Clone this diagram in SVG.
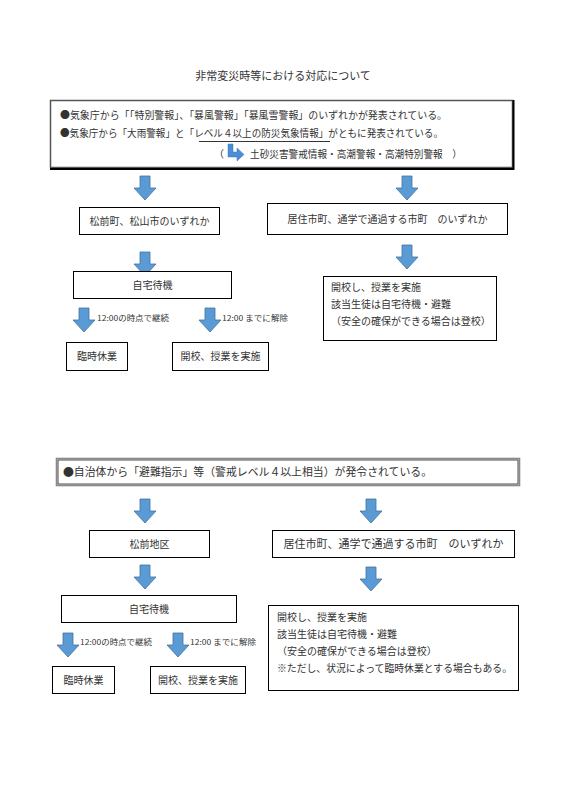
<svg xmlns="http://www.w3.org/2000/svg" width="566" height="801" viewBox="0 0 566 801">
<style>
text{font-family:"Noto Sans CJK JP","Noto Sans",sans-serif;fill:#333;}
.t{font-size:10px;}
.s{font-size:7.5px;}
.box{fill:#fff;stroke:#000;stroke-width:1;}
.arr{fill:#5B9BD5;stroke:#41719C;stroke-width:0.8;}
</style>
<defs>
<path id="da" d="M-5,0 H5 V12 H11 L0,24 L-11,12 H-5 Z"/>
</defs>
<rect width="566" height="801" fill="#fff"/>
<text x="283" y="80" font-size="11" text-anchor="middle">非常変災時等における対応について</text>

<g id="header1">
<rect x="50.5" y="100.5" width="462" height="67" fill="#fff" stroke="#555" stroke-width="1.5"/>
<path d="M513.5,100 V169 H50" fill="none" stroke="#000" stroke-width="2"/>
<text class="t" x="60" y="119" textLength="387" lengthAdjust="spacingAndGlyphs">●気象庁から「「特別警報」、「暴風警報」「暴風雪警報」のいずれかが発表されている。</text>
<text class="t" x="60" y="137" textLength="383" lengthAdjust="spacingAndGlyphs">●気象庁から「大雨警報」と「レベル４以上の防災気象情報」がともに発表されている。</text>
<line x1="199" y1="141.5" x2="330" y2="141.5" stroke="#000" stroke-width="0.8"/>
<text class="t" x="214" y="158">（</text>
<path d="M228,144 H233 V152 H237 V148 L244,154.5 L237,161 V157 H228 Z" fill="#4A8FD6" stroke="#3a78b8" stroke-width="0.5"/>
<text class="t" x="250" y="158" textLength="212" lengthAdjust="spacingAndGlyphs">土砂災害警戒情報・高潮警報・高潮特別警報　）</text>
</g>

<g id="connectors">
<use href="#da" class="arr" x="145" y="176"/>
<use href="#da" class="arr" x="145" y="252"/>
<use href="#da" class="arr" x="84" y="308"/>
<use href="#da" class="arr" x="210" y="308"/>
<use href="#da" class="arr" x="407" y="176"/>
<use href="#da" class="arr" x="407" y="245"/>
<use href="#da" class="arr" x="145" y="499"/>
<use href="#da" class="arr" x="145" y="565"/>
<use href="#da" class="arr" x="68" y="633"/>
<use href="#da" class="arr" x="178" y="633"/>
<use href="#da" class="arr" x="371" y="499"/>
<use href="#da" class="arr" x="371" y="567"/>
<text class="s" x="97" y="321" textLength="72" lengthAdjust="spacingAndGlyphs">12:00の時点で継続</text>
<text class="s" x="222" y="321" textLength="66" lengthAdjust="spacingAndGlyphs">12:00 までに解除</text>
<text class="s" x="80" y="645" textLength="72" lengthAdjust="spacingAndGlyphs">12:00の時点で継続</text>
<text class="s" x="190" y="645" textLength="66" lengthAdjust="spacingAndGlyphs">12:00 までに解除</text>
</g>

<g id="n1"><rect class="box" x="79.5" y="207.5" width="140" height="27"/><text class="t" x="149.5" y="224.5" text-anchor="middle">松前町、松山市のいずれか</text></g>
<g id="n2"><rect class="box" x="73.5" y="271.5" width="158" height="27"/><text class="t" x="152.5" y="288.5" text-anchor="middle">自宅待機</text></g>
<g id="n3"><rect class="box" x="66.5" y="342.5" width="61" height="28"/><text class="t" x="97" y="360" text-anchor="middle">臨時休業</text></g>
<g id="n4"><rect class="box" x="172.5" y="342.5" width="96" height="28"/><text class="t" x="220.5" y="360" text-anchor="middle">開校、授業を実施</text></g>
<g id="n5"><rect class="box" x="267.5" y="203.5" width="240" height="31"/><text class="t" x="387.5" y="222.5" text-anchor="middle">居住市町、通学で通過する市町　のいずれか</text></g>
<g id="n6"><rect class="box" x="323.5" y="276.5" width="173" height="64"/>
<text class="t" x="331" y="291">開校し、授業を実施</text>
<text class="t" x="331" y="308">該当生徒は自宅待機・避難</text>
<text class="t" x="331" y="325">（安全の確保ができる場合は登校）</text></g>

<g id="header2">
<rect x="56.5" y="458.5" width="463" height="27" fill="#fff" stroke="#8a8a8a" stroke-width="1.6"/>
<rect x="58" y="460" width="460" height="24" fill="none" stroke="#222" stroke-width="0.8"/>
<text x="63" y="476" font-size="11" textLength="369" lengthAdjust="spacingAndGlyphs">●自治体から「避難指示」等（警戒レベル４以上相当）が発令されている。</text>
</g>

<g id="m1"><rect class="box" x="89.5" y="530.5" width="120" height="27"/><text class="t" x="149.5" y="547.5" text-anchor="middle">松前地区</text></g>
<g id="m2"><rect class="box" x="61.5" y="595.5" width="175" height="27"/><text class="t" x="149" y="612.5" text-anchor="middle">自宅待機</text></g>
<g id="m3"><rect class="box" x="52.5" y="666.5" width="62" height="27"/><text class="t" x="83.5" y="683.5" text-anchor="middle">臨時休業</text></g>
<g id="m4"><rect class="box" x="150.5" y="666.5" width="95" height="27"/><text class="t" x="198" y="683.5" text-anchor="middle">開校、授業を実施</text></g>
<g id="m5"><rect class="box" x="272.5" y="530.5" width="242" height="27"/><text x="393.5" y="548" font-size="11" text-anchor="middle">居住市町、通学で通過する市町　のいずれか</text></g>
<g id="m6"><rect class="box" x="268.5" y="605.5" width="250" height="85"/>
<text class="t" x="277" y="621">開校し、授業を実施</text>
<text class="t" x="277" y="638">該当生徒は自宅待機・避難</text>
<text class="t" x="277" y="655">（安全の確保ができる場合は登校）</text>
<text class="t" x="277" y="672" textLength="235" lengthAdjust="spacingAndGlyphs">※ただし、状況によって臨時休業とする場合もある。</text></g>
</svg>
